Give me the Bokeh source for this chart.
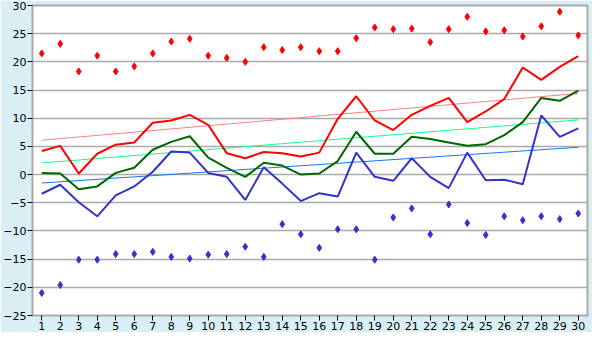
from bokeh.plotting import figure
from bokeh.models import FixedTicker, ColumnDataSource
from bokeh.embed import file_html
from bokeh.resources import INLINE

days = list(range(1, 31))
max_temp = [21.5, 23.2, 18.3, 21.1, 18.3, 19.2, 21.5, 23.6, 24.1, 21.1,
            20.7, 20.0, 22.6, 22.1, 22.6, 21.9, 21.9, 24.2, 26.1, 25.8,
            25.9, 23.5, 25.8, 28.0, 25.4, 25.6, 24.5, 26.3, 28.9, 24.7]
mean_max = [4.2, 5.1, 0.2, 3.7, 5.3, 5.7, 9.2, 9.6, 10.6, 8.8,
            3.8, 2.9, 4.0, 3.8, 3.2, 3.9, 9.9, 13.9, 9.6, 7.9,
            10.6, 12.2, 13.6, 9.3, 11.2, 13.4, 19.0, 16.8, 19.1, 21.0]
mean_temp = [0.3, 0.2, -2.6, -2.1, 0.3, 1.2, 4.4, 5.8, 6.8, 3.0,
             1.2, -0.4, 2.1, 1.6, 0.0, 0.2, 2.4, 7.6, 3.7, 3.7,
             6.7, 6.3, 5.7, 5.1, 5.4, 7.0, 9.3, 13.6, 13.1, 14.9]
mean_min = [-3.4, -1.8, -4.9, -7.4, -3.7, -2.1, 0.5, 4.1, 3.9, 0.3,
            -0.4, -4.5, 1.3, -1.6, -4.7, -3.3, -3.9, 3.9, -0.4, -1.1,
            2.9, -0.4, -2.4, 3.9, -1.0, -0.9, -1.7, 10.5, 6.7, 8.2]
min_temp = [-21.0, -19.6, -15.1, -15.1, -14.1, -14.1, -13.7, -14.6, -14.9, -14.2,
            -14.1, -12.8, -14.6, -8.8, -10.6, -13.0, -9.7, -9.7, -15.1, -7.6,
            -6.0, -10.6, -5.3, -8.6, -10.7, -7.4, -8.1, -7.4, -7.9, -6.9]
trend_x = [1, 30]
trend_max = [6.1, 14.4]
trend_mean = [2.06, 9.7]
trend_min = [-1.5, 4.85]
y_ticks = [-25, -20, -15, -10, -5, 0, 5, 10, 15, 20, 25, 30]

src = ColumnDataSource(dict(day=days, max_temp=max_temp, mean_max=mean_max,
                            mean_temp=mean_temp, mean_min=mean_min, min_temp=min_temp))

p = figure(width=592, height=332, output_backend="svg", toolbar_location=None,
           x_range=(0.5, 30.5), y_range=(-25, 30),
           min_border_left=20, min_border_right=5, min_border_top=5, min_border_bottom=0)
p.background_fill_color = "white"
p.border_fill_color = "#d9eff5"
p.outline_line_color = "#aaaaaa"
p.outline_line_width = 2

p.xgrid.grid_line_color = None
p.ygrid.grid_line_color = "#aaaaaa"
p.ygrid.grid_line_width = 1.5
p.ygrid.ticker = FixedTicker(ticks=y_ticks)

p.xaxis.ticker = FixedTicker(ticks=days)
p.yaxis.ticker = FixedTicker(ticks=y_ticks)
for ax in (p.xaxis, p.yaxis):
    ax.axis_line_color = "#aaaaaa"
    ax.major_tick_line_color = "black"
    ax.major_tick_in = 0
    ax.major_tick_out = 5
    ax.minor_tick_line_color = None
    ax.major_label_text_font = "DejaVu Sans"
    ax.major_label_text_font_size = "11px"
    ax.major_label_text_color = "black"
    ax.major_label_standoff = 1

p.line(trend_x, trend_max, color="#ff8080", line_width=1)
p.line(trend_x, trend_mean, color="#11ff88", line_width=1)
p.line(trend_x, trend_min, color="#1177ff", line_width=1)

p.line("day", "mean_max", source=src, color="#ff0000", line_width=2)
p.line("day", "mean_temp", source=src, color="#006600", line_width=2)
p.line("day", "mean_min", source=src, color="#3333cc", line_width=2)

p.scatter("day", "max_temp", source=src, marker="diamond", size=7,
          color="#ff0000")
p.scatter("day", "min_temp", source=src, marker="diamond", size=7,
          color="#3333cc")

open("out.html", "w").write(file_html(p, INLINE))
